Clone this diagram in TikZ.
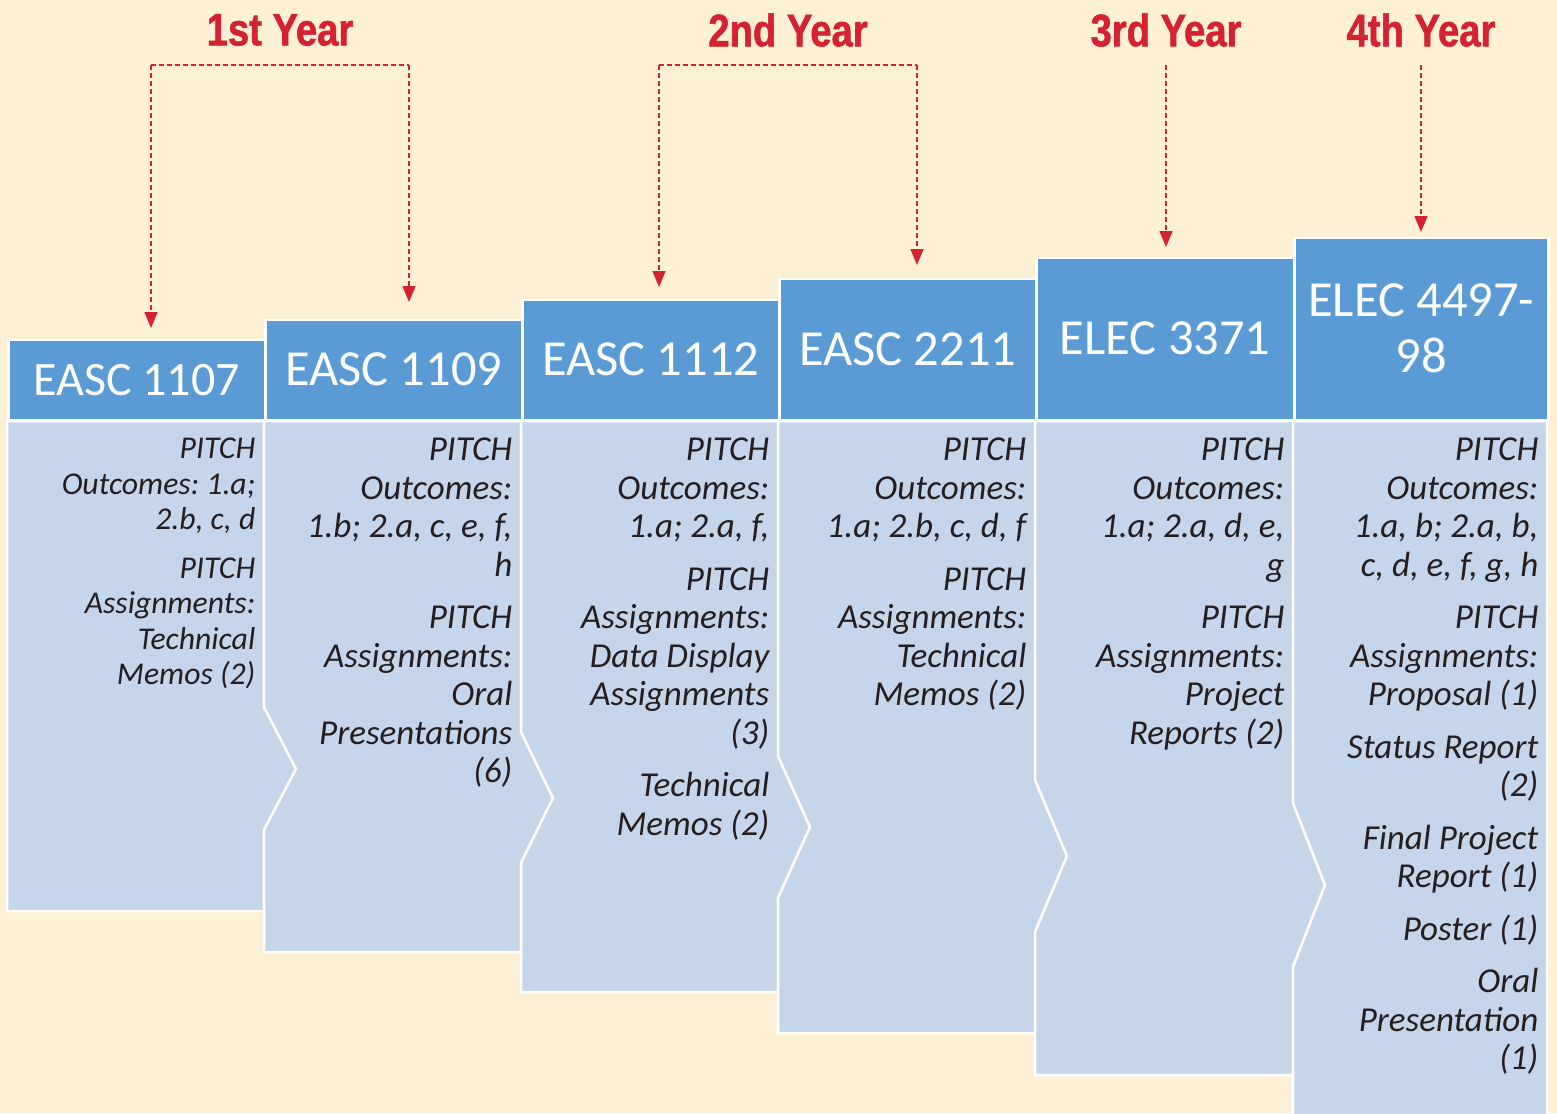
\documentclass[tikz,border=0pt]{standalone}
\usepackage{fontspec}
\setmainfont{Carlito}
\newfontfamily\yearfont[FakeStretch=0.84, BoldFeatures={FakeBold=1.2}]{Liberation Sans}
\usetikzlibrary{arrows.meta}
\definecolor{bg}{HTML}{FEF0D5}
\definecolor{hdr}{HTML}{5B9BD5}
\definecolor{bodyc}{HTML}{C5D5EA}
\definecolor{txt}{HTML}{231F20}
\definecolor{yred}{HTML}{D42232}
\frenchspacing
\begin{document}
\begin{tikzpicture}[x=1pt,y=-1pt,
 header/.style={fill=hdr, draw=white, line width=2.5pt, text=white,
   font=\fontsize{50.5}{56}\selectfont, anchor=south west, inner sep=0pt, align=center},
 smallheader/.style={font=\fontsize{48}{56}\selectfont},
 bodyshape/.style={fill=bodyc, draw=white, line width=2.5pt, line join=miter},
 bodytext/.style={anchor=north east, inner sep=0pt, align=flush right, text=txt,
   font=\fontsize{35}{38.5}\selectfont\itshape\frenchspacing, text width=245pt},
 smalltext/.style={font=\fontsize{31.7}{35.3}\selectfont\itshape\frenchspacing},
 yearlabel/.style={text=yred, inner sep=0pt, font=\yearfont\bfseries\fontsize{45.5}{50}\selectfont},
 yearline/.style={draw=yred, line width=1.5pt, dash pattern=on 5pt off 3pt},
 yeararrow/.style={yearline, -{Triangle[width=13pt,length=16pt]}}
]
\useasboundingbox (0,0) rectangle (1557,1113);
\fill[bg] (0,0) rectangle (1557,1113);

% bodies
\path[bodyshape] (7,421) -- (264,421) -- (264,707) -- (296,769) -- (264,830) -- (264,911) -- (7,911) -- cycle;
\path[bodyshape] (264,421) -- (521,421) -- (521,732) -- (553,798) -- (521,863) -- (521,952) -- (264,952) -- (264,830) -- (296,769) -- (264,707) -- cycle;
\path[bodyshape] (521,421) -- (778,421) -- (778,756) -- (810,827) -- (778,898) -- (778,992) -- (521,992) -- (521,863) -- (553,798) -- (521,732) -- cycle;
\path[bodyshape] (778,421) -- (1035,421) -- (1035,780) -- (1067,856) -- (1035,932) -- (1035,1033) -- (778,1033) -- (778,898) -- (810,827) -- (778,756) -- cycle;
\path[bodyshape] (1035,421) -- (1293,421) -- (1293,803) -- (1325,885) -- (1293,967) -- (1293,1075) -- (1035,1075) -- (1035,932) -- (1067,856) -- (1035,780) -- cycle;
\path[bodyshape] (1293,421) -- (1547,421) -- (1547,1124) -- (1293,1124) -- (1293,967) -- (1325,885) -- (1293,803) -- cycle;

% headers
\node[header, smallheader, minimum width=257pt, minimum height=80pt] (h1) at (7,421) {EASC 1107};
\node[header, minimum width=257pt, minimum height=100pt] (h2) at (264,421) {EASC 1109};
\node[header, minimum width=257pt, minimum height=120pt] (h3) at (521,421) {EASC 1112};
\node[header, minimum width=257pt, minimum height=141pt] (h4) at (778,421) {EASC 2211};
\node[header, minimum width=258pt, minimum height=162pt] (h5) at (1035,421) {ELEC 3371};
\node[header, minimum width=254pt, minimum height=182pt] (h6) at (1293,421) {ELEC 4497-\\98};

% body texts
\node[bodytext, smalltext] (b1) at (255.5,438) {PITCH\\Outcomes: 1.a;\\2.b, c, d\\[14pt]PITCH\\Assignments:\\Technical\\Memos (2)};
\node[bodytext] (b2) at (512.5,438) {PITCH\\Outcomes:\\1.b; 2.a, c, e, f,\\h\\[14pt]PITCH\\Assignments:\\Oral\\Presentations\\(6)};
\node[bodytext] (b3) at (769.5,438) {PITCH\\Outcomes:\\1.a; 2.a, f,\\[14pt]PITCH\\Assignments:\\Data Display\\Assignments\\(3)\\[14pt]Technical\\Memos (2)};
\node[bodytext] (b4) at (1026.5,438) {PITCH\\Outcomes:\\1.a; 2.b, c, d, f\\[14pt]PITCH\\Assignments:\\Technical\\Memos (2)};
\node[bodytext] (b5) at (1284.5,438) {PITCH\\Outcomes:\\1.a; 2.a, d, e,\\g\\[14pt]PITCH\\Assignments:\\Project\\Reports (2)};
\node[bodytext] (b6) at (1538.5,438) {PITCH\\Outcomes:\\1.a, b; 2.a, b,\\c, d, e, f, g, h\\[14pt]PITCH\\Assignments:\\Proposal (1)\\[14pt]Status Report\\(2)\\[14pt]Final Project\\Report (1)\\[14pt]Poster (1)\\[14pt]Oral\\Presentation\\(1)};

% year labels
\node[yearlabel] (y1) at (280,30) {1st Year};
\node[yearlabel] (y2) at (788,30) {2nd Year};
\node[yearlabel] (y3) at (1166,30) {3rd Year};
\node[yearlabel] (y4) at (1421,30) {4th Year};

\coordinate (s1) at (151,65);  \coordinate (s2) at (409,65);
\coordinate (s3) at (659,65);  \coordinate (s4) at (917,65);
\coordinate (s5) at (1166,65); \coordinate (s6) at (1421,65);
\coordinate (t1) at (151,328); \coordinate (t2) at (409,302);
\coordinate (t3) at (659,287); \coordinate (t4) at (917,265);
\coordinate (t5) at (1166,247); \coordinate (t6) at (1421,232);

\draw[yearline] (s1) -- (s2);
\draw[yearline] (s3) -- (s4);
\draw[yeararrow] (s1) -- (t1);
\draw[yeararrow] (s2) -- (t2);
\draw[yeararrow] (s3) -- (t3);
\draw[yeararrow] (s4) -- (t4);
\draw[yeararrow] (s5) -- (t5);
\draw[yeararrow] (s6) -- (t6);
\end{tikzpicture}
\end{document}
